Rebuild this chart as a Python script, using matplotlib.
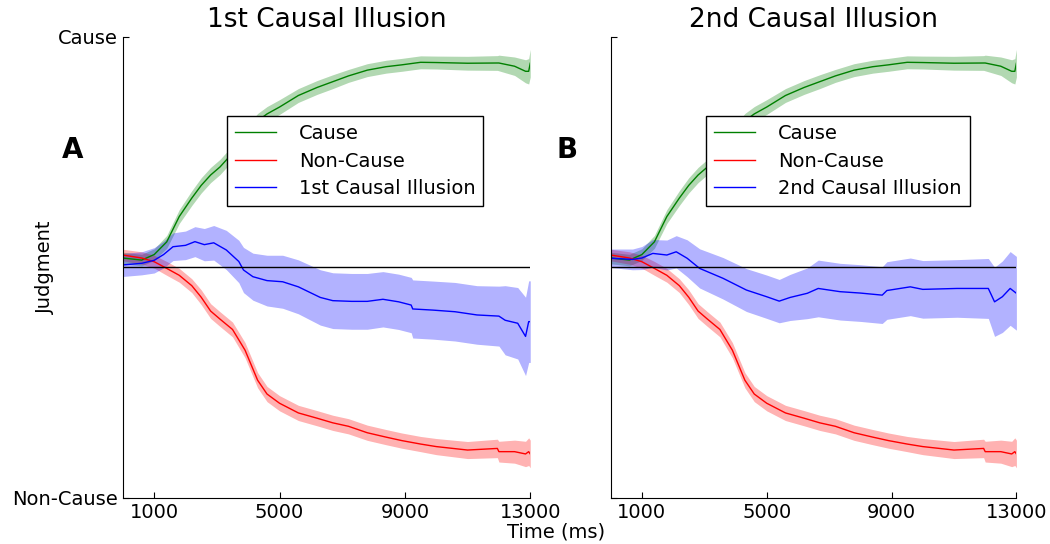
import numpy as np
import matplotlib
matplotlib.use("Agg")
import matplotlib.pyplot as plt

# time grid (ms) used for the Cause / Non-Cause curves (same in both panels)
t_cr = [0, 600, 1000, 1400, 1800, 2200, 2500, 2800, 3100, 3500, 3900, 4300, 4600,
        5000, 5600, 6200, 6700, 7200, 7800, 8400, 8900, 9500, 10000, 11000, 11950,
        12000, 12500, 12850, 12950, 13000]
cause_mean = [0.04, 0.031, 0.055, 0.11, 0.22, 0.30, 0.355, 0.40, 0.435, 0.495, 0.57,
              0.635, 0.665, 0.695, 0.745, 0.78, 0.805, 0.83, 0.855, 0.87, 0.878, 0.889,
              0.888, 0.885, 0.886, 0.886, 0.872, 0.85, 0.85, 0.885]
cause_err = [0.025, 0.025, 0.025, 0.028, 0.03, 0.032, 0.033, 0.033, 0.033, 0.033, 0.033,
             0.032, 0.032, 0.032, 0.03, 0.03, 0.03, 0.028, 0.028, 0.028, 0.028, 0.028,
             0.028, 0.03, 0.032, 0.034, 0.04, 0.05, 0.055, 0.06]
noncause_mean = [0.053, 0.04, 0.024, -0.005, -0.035, -0.08, -0.13, -0.19, -0.225, -0.27,
                 -0.36, -0.49, -0.55, -0.59, -0.632, -0.655, -0.675, -0.69, -0.718, -0.737,
                 -0.752, -0.767, -0.778, -0.793, -0.786, -0.80, -0.80, -0.81, -0.80, -0.81]
noncause_err = [0.025, 0.027, 0.028, 0.03, 0.03, 0.03, 0.032, 0.032, 0.032, 0.032, 0.033,
                0.033, 0.033, 0.033, 0.033, 0.033, 0.033, 0.033, 0.033, 0.033, 0.033, 0.033,
                0.035, 0.037, 0.04, 0.045, 0.05, 0.055, 0.06, 0.06]

# 1st causal illusion
t_ill1 = [0, 600, 1000, 1300, 1600, 2000, 2300, 2600, 2900, 3300, 3700, 3850, 4150, 4600,
          5100, 5600, 6300, 6700, 7300, 7800, 8300, 8800, 9200, 9250, 9900, 10600, 11300,
          12000, 12200, 12600, 12850, 12950, 13000]
ill1_mean = [0.01, 0.017, 0.03, 0.055, 0.089, 0.095, 0.111, 0.098, 0.106, 0.075, 0.025,
             -0.012, -0.041, -0.058, -0.063, -0.085, -0.131, -0.145, -0.148, -0.148, -0.139,
             -0.15, -0.164, -0.181, -0.186, -0.193, -0.207, -0.212, -0.23, -0.243, -0.30,
             -0.236, -0.236]
ill1_err = [0.05, 0.05, 0.055, 0.058, 0.06, 0.062, 0.065, 0.07, 0.075, 0.085, 0.092, 0.098,
            0.102, 0.11, 0.115, 0.117, 0.12, 0.121, 0.121, 0.121, 0.12, 0.12, 0.12, 0.126,
            0.126, 0.127, 0.127, 0.13, 0.15, 0.155, 0.17, 0.177, 0.177]

# 2nd causal illusion
t_ill2 = [0, 700, 1000, 1350, 1800, 2100, 2450, 2850, 3600, 4350, 5000, 5400, 5750, 6300,
          6650, 7350, 8000, 8700, 8850, 9600, 10000, 11100, 12100, 12300, 12550, 12800, 13000]
ill2_mean = [0.039, 0.034, 0.04, 0.06, 0.053, 0.067, 0.039, -0.005, -0.048, -0.099, -0.128,
             -0.147, -0.131, -0.113, -0.092, -0.106, -0.112, -0.121, -0.101, -0.085, -0.096,
             -0.092, -0.092, -0.15, -0.128, -0.092, -0.113]
ill2_err = [0.04, 0.045, 0.05, 0.06, 0.065, 0.07, 0.08, 0.085, 0.09, 0.093, 0.094, 0.094,
            0.1, 0.11, 0.123, 0.123, 0.123, 0.123, 0.125, 0.125, 0.125, 0.125, 0.13, 0.15,
            0.155, 0.16, 0.16]

titles = ["1st Causal Illusion", "2nd Causal Illusion"]
xticks = [1000, 5000, 9000, 13000]

plt.rcParams['font.family'] = ['DejaVu Sans']

fig = plt.figure(figsize=(10.5, 5.44), dpi=100)
ax1 = fig.add_axes([0.117, 0.085, 0.388, 0.8475])
ax2 = fig.add_axes([0.5816, 0.085, 0.3864, 0.8475])


def band(ax, t, m, e, color, label):
    t = np.array(t)
    m = np.array(m)
    e = np.array(e)
    ax.fill_between(t, m - e, m + e, color=color, alpha=0.3, lw=0)
    ax.plot(t, m, color=color, lw=1, label=label)


ill_data = [(t_ill1, ill1_mean, ill1_err), (t_ill2, ill2_mean, ill2_err)]

for i, ax in enumerate([ax1, ax2]):
    band(ax, t_cr, cause_mean, cause_err, 'g', 'Cause')
    band(ax, t_cr, noncause_mean, noncause_err, 'r', 'Non-Cause')
    ti, mi, ei = ill_data[i]
    band(ax, ti, mi, ei, 'b', titles[i])
    ax.axhline(0, color='k', lw=1)

    ax.set_xlim(0, 13000)
    ax.set_ylim(-1, 1)
    ax.set_xticks(xticks)
    ax.set_xticklabels([str(x) for x in xticks], fontsize=14)
    ax.set_yticks([-1, 1])
    if i == 0:
        ax.set_yticklabels(['Non-Cause', 'Cause'], fontsize=14)
    else:
        ax.set_yticklabels([])
    ax.tick_params(direction='in', length=4, top=False, right=False)
    ax.spines['top'].set_visible(False)
    ax.spines['right'].set_visible(False)
    ax.set_title(titles[i], fontsize=19, pad=7)

    leg = ax.legend(loc='upper left', bbox_to_anchor=(0.2555, 0.828) if i == 0 else (0.236, 0.828),
                    fontsize=14, fancybox=False, framealpha=1, edgecolor='k',
                    handlelength=2.1, handletextpad=1.2, borderpad=0.4, labelspacing=0.45,
                    borderaxespad=0)
    leg.get_frame().set_linewidth(1)

fig.text(0.0695, 0.725, "A", fontsize=20, fontweight='bold', ha='center', va='center')
fig.text(0.540, 0.725, "B", fontsize=20, fontweight='bold', ha='center', va='center')
fig.text(0.5295, 0.022, "Time (ms)", fontsize=14, ha='center', va='center')
fig.text(0.043, 0.509, "Judgment", fontsize=14, rotation=90, ha='center', va='center')

fig.savefig("out.png", dpi=100)
